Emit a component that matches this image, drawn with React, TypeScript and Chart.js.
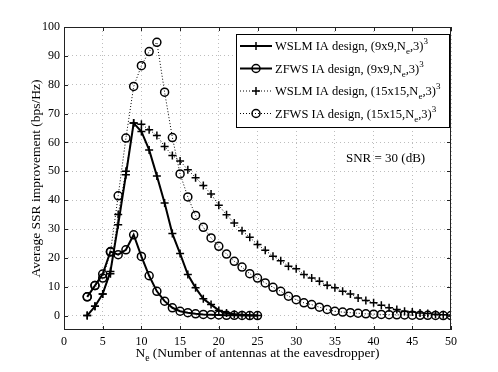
import React, { useEffect, useRef } from 'react';
import { Chart, registerables } from 'chart.js';

Chart.register(...registerables);

// ---- data ----
const neSmall = [3, 4, 5, 6, 7, 8, 9, 10, 11, 12, 13, 14, 15, 16, 17, 18, 19, 20, 21, 22, 23, 24, 25];
const neLarge = [3, 4, 5, 6, 7, 8, 9, 10, 11, 12, 13, 14, 15, 16, 17, 18, 19, 20, 21, 22, 23, 24, 25, 26,
  27, 28, 29, 30, 31, 32, 33, 34, 35, 36, 37, 38, 39, 40, 41, 42, 43, 44, 45, 46, 47, 48, 49, 50];

const wslm9 = [0, 3.2, 7.5, 15.3, 31.5, 48.8, 66.7, 63.8, 57.4, 48.4, 39, 28.4, 21.5, 14.2, 9.6, 5.8, 3.8, 1.8,
  0.9, 0.5, 0.3, 0.1, 0];
const zfws9 = [6.5, 10.4, 14.4, 22.2, 21.1, 22.8, 28, 20.5, 13.8, 8.4, 5, 2.7, 1.5, 1.0, 0.6, 0.4, 0.3, 0.2,
  0.1, 0.1, 0.05, 0, 0];
const wslm15 = [0, 3.2, 7.5, 14.5, 35, 50, 66.7, 66.3, 64.4, 62.4, 58.6, 55.5, 53.6, 50.5, 47.8, 45.1, 42.1,
  38.2, 34.9, 32.1, 29.4, 27.1, 24.6, 22.6, 20.6, 19, 17.1, 16.2, 14.2, 13, 11.9, 10.5, 9.6, 8.4, 7.5, 6.1,
  5.2, 4.4, 3.6, 2.7, 2.1, 1.5, 1.2, 0.9, 0.7, 0.5, 0.3, 0.2];
const zfws15 = [6.5, 10.4, 13, 22, 41.5, 61.5, 79.4, 86.6, 91.5, 94.7, 77.4, 61.7, 49.1, 41.1, 34.7, 30.6,
  26.9, 24, 21.3, 18.8, 16.8, 14.5, 13, 11.3, 9.8, 8.4, 6.7, 5.5, 4.4, 3.8, 2.9, 2.1, 1.5, 1.2, 1.0, 0.8,
  0.6, 0.5, 0.4, 0.3, 0.25, 0.2, 0.15, 0.1, 0.1, 0.05, 0, 0];

const xTicks = [0, 5, 10, 15, 20, 25, 30, 35, 40, 45, 50];
const yTicks = [0, 10, 20, 30, 40, 50, 60, 70, 80, 90, 100];

const legendLabels = [
  { pre: 'WSLM IA design, (9x9,N', sub: 'e', post: ',3)', sup: '3' },
  { pre: 'ZFWS IA design, (9x9,N', sub: 'e', post: ',3)', sup: '3' },
  { pre: 'WSLM IA design, (15x15,N', sub: 'e', post: ',3)', sup: '3' },
  { pre: 'ZFWS IA design, (15x15,N', sub: 'e', post: ',3)', sup: '3' },
];
const xTitle = { main: 'N', sub: 'e', rest: ' (Number of antennas at the eavesdropper)' };
const yTitle = 'Average SSR improvement (bps/Hz)';
const snrText = 'SNR = 30 (dB)';

const FONT = '"Liberation Serif", "Times New Roman", serif';

const pairs = (xs: number[], ys: number[]) => xs.map((x, i) => ({ x, y: ys[i] }));

type Part = { t: string; m: 'n' | 'sub' | 'sup' };

function richWidth(ctx: CanvasRenderingContext2D, parts: Part[], size: number) {
  let w = 0;
  for (const p of parts) {
    const s = p.m === 'n' ? size : size * 0.72;
    ctx.font = `${s}px ${FONT}`;
    w += ctx.measureText(p.t).width;
  }
  return w;
}

function drawRich(ctx: CanvasRenderingContext2D, parts: Part[], x: number, y: number, size: number) {
  let cx = x;
  ctx.textBaseline = 'alphabetic';
  ctx.textAlign = 'left';
  for (const p of parts) {
    const s = p.m === 'n' ? size : size * 0.72;
    ctx.font = `${s}px ${FONT}`;
    const dy = p.m === 'sub' ? size * 0.32 : p.m === 'sup' ? -size * 0.45 : 0;
    ctx.fillText(p.t, cx, y + dy);
    cx += ctx.measureText(p.t).width;
  }
}

function drawMarker(ctx: CanvasRenderingContext2D, kind: string, x: number, y: number) {
  ctx.beginPath();
  if (kind === 'cross') {
    ctx.moveTo(x - 4, y);
    ctx.lineTo(x + 4, y);
    ctx.moveTo(x, y - 4);
    ctx.lineTo(x, y + 4);
  } else {
    ctx.arc(x, y, 4, 0, Math.PI * 2);
  }
  ctx.stroke();
}

const overlay = {
  id: 'overlay',
  afterDraw(chart: any) {
    const ctx: CanvasRenderingContext2D = chart.ctx;
    const { left, right, top, bottom } = chart.chartArea;
    const xs = chart.scales.x;
    const ys = chart.scales.y;
    ctx.save();
    // box
    ctx.strokeStyle = '#222';
    ctx.lineWidth = 1;
    ctx.setLineDash([]);
    ctx.strokeRect(left + 0.5, top + 0.5, right - left - 1, bottom - top - 1);
    // inward ticks
    ctx.beginPath();
    for (const v of xTicks) {
      const px = Math.round(xs.getPixelForValue(v)) + 0.5;
      ctx.moveTo(px, bottom);
      ctx.lineTo(px, bottom - 4);
      ctx.moveTo(px, top);
      ctx.lineTo(px, top + 4);
    }
    for (const v of yTicks) {
      const py = Math.round(ys.getPixelForValue(v)) + 0.5;
      ctx.moveTo(left, py);
      ctx.lineTo(left + 4, py);
      ctx.moveTo(right, py);
      ctx.lineTo(right - 4, py);
    }
    ctx.stroke();

    // legend
    const bx = 236, by = 34, bw = 213, bh = 93;
    ctx.fillStyle = '#fff';
    ctx.fillRect(bx, by, bw, bh);
    ctx.strokeStyle = '#000';
    ctx.strokeRect(bx + 0.5, by + 0.5, bw, bh);
    const styles = [
      { dash: [], lw: 2, marker: 'cross' },
      { dash: [], lw: 2, marker: 'circle' },
      { dash: [1, 2], lw: 1, marker: 'cross' },
      { dash: [1, 2], lw: 1, marker: 'circle' },
    ];
    legendLabels.forEach((lab, i) => {
      const ry = by + 12 + i * 22.5;
      const st = styles[i];
      ctx.strokeStyle = '#000';
      ctx.lineWidth = st.lw;
      ctx.setLineDash(st.dash);
      ctx.beginPath();
      ctx.moveTo(240, ry);
      ctx.lineTo(272, ry);
      ctx.stroke();
      ctx.setLineDash([]);
      ctx.lineWidth = 1.5;
      drawMarker(ctx, st.marker, 256, ry);
      ctx.fillStyle = '#000';
      drawRich(ctx, [
        { t: lab.pre, m: 'n' }, { t: lab.sub, m: 'sub' }, { t: lab.post, m: 'n' }, { t: lab.sup, m: 'sup' },
      ], 275, ry + 4, 12.5);
    });

    // SNR annotation
    ctx.fillStyle = '#000';
    ctx.font = `13px ${FONT}`;
    ctx.textAlign = 'left';
    ctx.textBaseline = 'alphabetic';
    ctx.fillText(snrText, 346, 162);

    // x title
    const xparts: Part[] = [
      { t: xTitle.main, m: 'n' }, { t: xTitle.sub, m: 'sub' }, { t: xTitle.rest, m: 'n' },
    ];
    const w = richWidth(ctx, xparts, 13.5);
    drawRich(ctx, xparts, (left + right) / 2 - w / 2, 357, 13.5);

    // y title
    ctx.save();
    ctx.translate(39.5, (top + bottom) / 2);
    ctx.rotate(-Math.PI / 2);
    ctx.font = `13.5px ${FONT}`;
    ctx.textAlign = 'center';
    ctx.textBaseline = 'alphabetic';
    ctx.fillText(yTitle, 0, 0);
    ctx.restore();

    ctx.restore();
  },
};

export default function App() {
  const ref = useRef<HTMLCanvasElement>(null);
  useEffect(() => {
    const canvas = ref.current!;
    const tickFont = { family: FONT, size: 12 };
    const chart = new Chart(canvas, {
      type: 'line',
      data: {
        datasets: [
          {
            data: pairs(neSmall, wslm9), borderColor: '#000', borderWidth: 2, pointStyle: 'cross',
            pointRadius: 4, pointBorderWidth: 1.5, pointBorderColor: '#000', backgroundColor: 'rgba(0,0,0,0)',
          },
          {
            data: pairs(neSmall, zfws9), borderColor: '#000', borderWidth: 2, pointStyle: 'circle',
            pointRadius: 4, pointBorderWidth: 1.5, pointBorderColor: '#000', pointBackgroundColor: 'rgba(0,0,0,0)',
            backgroundColor: 'rgba(0,0,0,0)',
          },
          {
            data: pairs(neLarge, wslm15), borderColor: '#000', borderWidth: 1, borderDash: [1, 2],
            pointStyle: 'cross', pointRadius: 4, pointBorderWidth: 1.5, pointBorderColor: '#000',
            backgroundColor: 'rgba(0,0,0,0)',
          },
          {
            data: pairs(neLarge, zfws15), borderColor: '#000', borderWidth: 1, borderDash: [1, 2],
            pointStyle: 'circle', pointRadius: 4, pointBorderWidth: 1.5, pointBorderColor: '#000',
            pointBackgroundColor: 'rgba(0,0,0,0)', backgroundColor: 'rgba(0,0,0,0)',
          },
        ],
      },
      options: {
        responsive: false,
        animation: false,
        devicePixelRatio: 1,
        layout: { padding: { top: 27, right: 47, left: 0, bottom: 0 } },
        plugins: { legend: { display: false }, tooltip: { enabled: false }, title: { display: false } },
        elements: { line: { tension: 0 } },
        scales: {
          x: {
            type: 'linear', min: 0, max: 50,
            afterBuildTicks: (s: any) => { s.ticks = xTicks.map((v) => ({ value: v })); },
            afterFit: (s: any) => { s.height = 42; },
            ticks: { font: tickFont, color: '#000', padding: 5, maxRotation: 0, autoSkip: false },
            grid: { color: '#bdbdbd', lineWidth: 1, drawTicks: false, tickLength: 0 },
            border: { display: false, dash: [1, 3] },
          },
          y: {
            type: 'linear', min: -5, max: 100,
            afterBuildTicks: (s: any) => { s.ticks = yTicks.map((v) => ({ value: v })); },
            afterFit: (s: any) => { s.width = 64; },
            ticks: { font: tickFont, color: '#000', padding: 4, autoSkip: false },
            grid: { color: '#bdbdbd', lineWidth: 1, drawTicks: false, tickLength: 0 },
            border: { display: false, dash: [1, 3] },
          },
        },
      },
      plugins: [overlay],
    } as any);
    return () => chart.destroy();
  }, []);
  return (
    <div style={{ position: 'fixed', left: 0, top: 0, width: 498, height: 372, background: '#fff' }}>
      <canvas ref={ref} width={498} height={372} style={{ display: 'block' }} />
    </div>
  );
}
